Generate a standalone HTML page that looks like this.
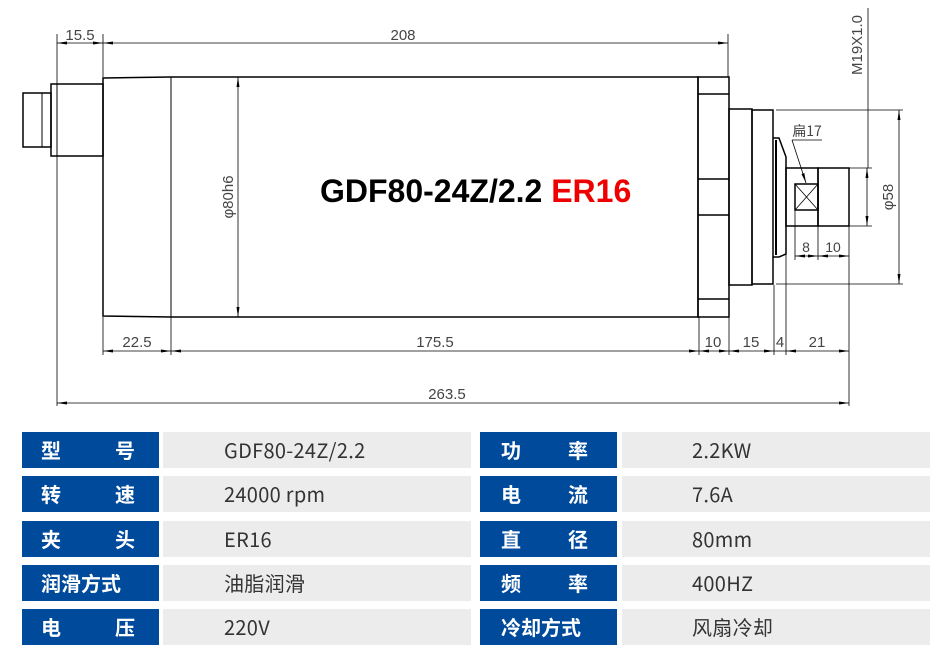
<!DOCTYPE html>
<html><head><meta charset="utf-8"><style>
body{margin:0;background:#fff;width:946px;height:661px;overflow:hidden;position:relative;font-family:"Liberation Sans","Noto Sans CJK SC",sans-serif}
.l,.v{position:absolute;height:36px;line-height:36px}
.l{background:#004a9c;color:#fff;font-weight:bold;font-size:20px;width:137px;font-family:"Noto Sans CJK SC",sans-serif}
.l span{position:absolute;top:0}
.v{background:#ececec;color:#333;font-size:20px;width:308px;font-family:"Noto Sans CJK SC","Liberation Sans",sans-serif;letter-spacing:0.3px}
</style></head><body>
<svg width="946" height="420" style="position:absolute;left:0;top:0" font-family="Liberation Sans, sans-serif">
<defs><marker id="a" markerWidth="10" markerHeight="6" refX="10" refY="3" orient="auto-start-reverse" markerUnits="userSpaceOnUse"><path d="M0,1.5L10,3L0,4.5z" fill="#000"/></marker></defs>
<g stroke="#000" fill="none" stroke-width="1.5">
<rect x="23" y="93" width="28" height="54"/><line x1="42" y1="93" x2="42" y2="147" stroke-width="1"/>
<rect x="51" y="84" width="52" height="72"/><line x1="57" y1="84" x2="57" y2="156" stroke-width="1"/>
<path d="M103,78L171,77L698,77L698,317L171,317L103,316Z"/>
<line x1="171" y1="77" x2="171" y2="317" stroke-width="1"/>
<rect x="698" y="77" width="31" height="240"/>
<line x1="698" y1="94" x2="729" y2="94"/><line x1="698" y1="179" x2="729" y2="179"/><line x1="698" y1="215" x2="729" y2="215"/><line x1="698" y1="299" x2="729" y2="299"/>
<rect x="729" y="109" width="23" height="176"/><rect x="752" y="110" width="21" height="174"/>
<path d="M773,138L779,138L786,157L786,254L779,257L773,257"/><line x1="776" y1="140" x2="776" y2="255" stroke-width="2"/>
<rect x="786" y="168" width="32" height="58"/><rect x="818" y="168" width="31" height="58"/>
<rect x="795" y="184" width="23" height="26"/><path d="M795,184L818,210M818,184L795,210" stroke-width="0.8"/>
</g>
<g stroke="#000" stroke-width="0.8" fill="none">
<line x1="57" y1="34" x2="57" y2="406"/><line x1="103" y1="34" x2="103" y2="77"/><line x1="728" y1="34" x2="728" y2="77"/>
<line x1="57" y1="43" x2="103" y2="43" marker-start="url(#a)" marker-end="url(#a)"/>
<line x1="103" y1="43" x2="728" y2="43" marker-start="url(#a)" marker-end="url(#a)"/>
<line x1="238" y1="77" x2="238" y2="317" marker-start="url(#a)" marker-end="url(#a)"/>
<line x1="103" y1="317" x2="103" y2="355"/><line x1="171" y1="317" x2="171" y2="355"/><line x1="699" y1="317" x2="699" y2="355"/><line x1="729" y1="317" x2="729" y2="355"/><line x1="774" y1="285" x2="774" y2="355"/><line x1="786" y1="226" x2="786" y2="355"/><line x1="849" y1="226" x2="849" y2="406"/>
<line x1="103" y1="351" x2="171" y2="351" marker-start="url(#a)" marker-end="url(#a)"/>
<line x1="171" y1="351" x2="699" y2="351" marker-start="url(#a)" marker-end="url(#a)"/>
<line x1="699" y1="351" x2="729" y2="351" marker-start="url(#a)" marker-end="url(#a)"/>
<line x1="729" y1="351" x2="774" y2="351" marker-start="url(#a)" marker-end="url(#a)"/>
<line x1="774" y1="351" x2="786" y2="351"/>
<line x1="786" y1="351" x2="849" y2="351" marker-start="url(#a)" marker-end="url(#a)"/>
<line x1="57" y1="403" x2="849" y2="403" marker-start="url(#a)" marker-end="url(#a)"/>
<line x1="795" y1="210" x2="795" y2="260"/><line x1="818" y1="226" x2="818" y2="260"/>
<line x1="795" y1="256" x2="818" y2="256" marker-start="url(#a)" marker-end="url(#a)"/>
<line x1="818" y1="256" x2="849" y2="256" marker-start="url(#a)" marker-end="url(#a)"/>
<line x1="868" y1="8" x2="868" y2="168"/>
<line x1="849" y1="168" x2="872" y2="168"/><line x1="849" y1="226" x2="872" y2="226"/>
<line x1="867" y1="168" x2="867" y2="226" marker-start="url(#a)" marker-end="url(#a)"/>
<line x1="776" y1="110" x2="903" y2="110"/><line x1="776" y1="284" x2="903" y2="284"/>
<line x1="899" y1="110" x2="899" y2="284" marker-start="url(#a)" marker-end="url(#a)"/>
<path d="M792,140L822,140"/><line x1="792" y1="140" x2="806" y2="183" marker-end="url(#a)"/>
</g>
<g font-size="15" fill="#444" text-anchor="middle">
<text x="80" y="40">15.5</text><text x="403" y="40">208</text>
<text x="137" y="347">22.5</text><text x="435" y="347">175.5</text><text x="713" y="347">10</text><text x="751" y="347">15</text><text x="780" y="347">4</text><text x="817" y="347">21</text>
<text x="447" y="399">263.5</text>
<text x="806" y="252" font-size="14">8</text><text x="833" y="252" font-size="14">10</text>
<text x="807" y="136" font-size="14" font-family="Noto Sans CJK SC,sans-serif">扁17</text>
<text transform="translate(233,197) rotate(-90)">φ80h6</text>
<text transform="translate(862,45) rotate(-90)">M19X1.0</text>
<text transform="translate(893,197) rotate(-90)">φ58</text>
</g>
<text x="320" y="202" font-size="32" font-weight="bold" fill="#000">GDF80-24Z/2.2 <tspan fill="#e00">ER16</tspan></text>
</svg>

<div class="l" style="left:22px;top:432px"><span style="left:19px">型</span><span style="left:93px">号</span></div><div class="v" style="left:163px;top:432px;padding-left:61px;width:247px">GDF80-24Z/2.2</div>
<div class="l" style="left:22px;top:476px"><span style="left:19px">转</span><span style="left:93px">速</span></div><div class="v" style="left:163px;top:476px;padding-left:61px;width:247px">24000 rpm</div>
<div class="l" style="left:22px;top:521px"><span style="left:19px">夹</span><span style="left:93px">头</span></div><div class="v" style="left:163px;top:521px;padding-left:61px;width:247px">ER16</div>
<div class="l" style="left:22px;top:565px"><span style="left:19px">润滑方式</span></div><div class="v" style="left:163px;top:565px;padding-left:61px;width:247px">油脂润滑</div>
<div class="l" style="left:22px;top:609px"><span style="left:19px">电</span><span style="left:93px">压</span></div><div class="v" style="left:163px;top:609px;padding-left:61px;width:247px">220V</div>

<div class="l" style="left:480px;top:432px"><span style="left:21px">功</span><span style="left:88px">率</span></div><div class="v" style="left:622px;top:432px;padding-left:70px;width:238px">2.2KW</div>
<div class="l" style="left:480px;top:476px"><span style="left:21px">电</span><span style="left:88px">流</span></div><div class="v" style="left:622px;top:476px;padding-left:70px;width:238px">7.6A</div>
<div class="l" style="left:480px;top:521px"><span style="left:21px">直</span><span style="left:88px">径</span></div><div class="v" style="left:622px;top:521px;padding-left:70px;width:238px">80mm</div>
<div class="l" style="left:480px;top:565px"><span style="left:21px">频</span><span style="left:88px">率</span></div><div class="v" style="left:622px;top:565px;padding-left:70px;width:238px">400HZ</div>
<div class="l" style="left:480px;top:609px"><span style="left:21px">冷却方式</span></div><div class="v" style="left:622px;top:609px;padding-left:70px;width:238px">风扇冷却</div>
</body></html>
